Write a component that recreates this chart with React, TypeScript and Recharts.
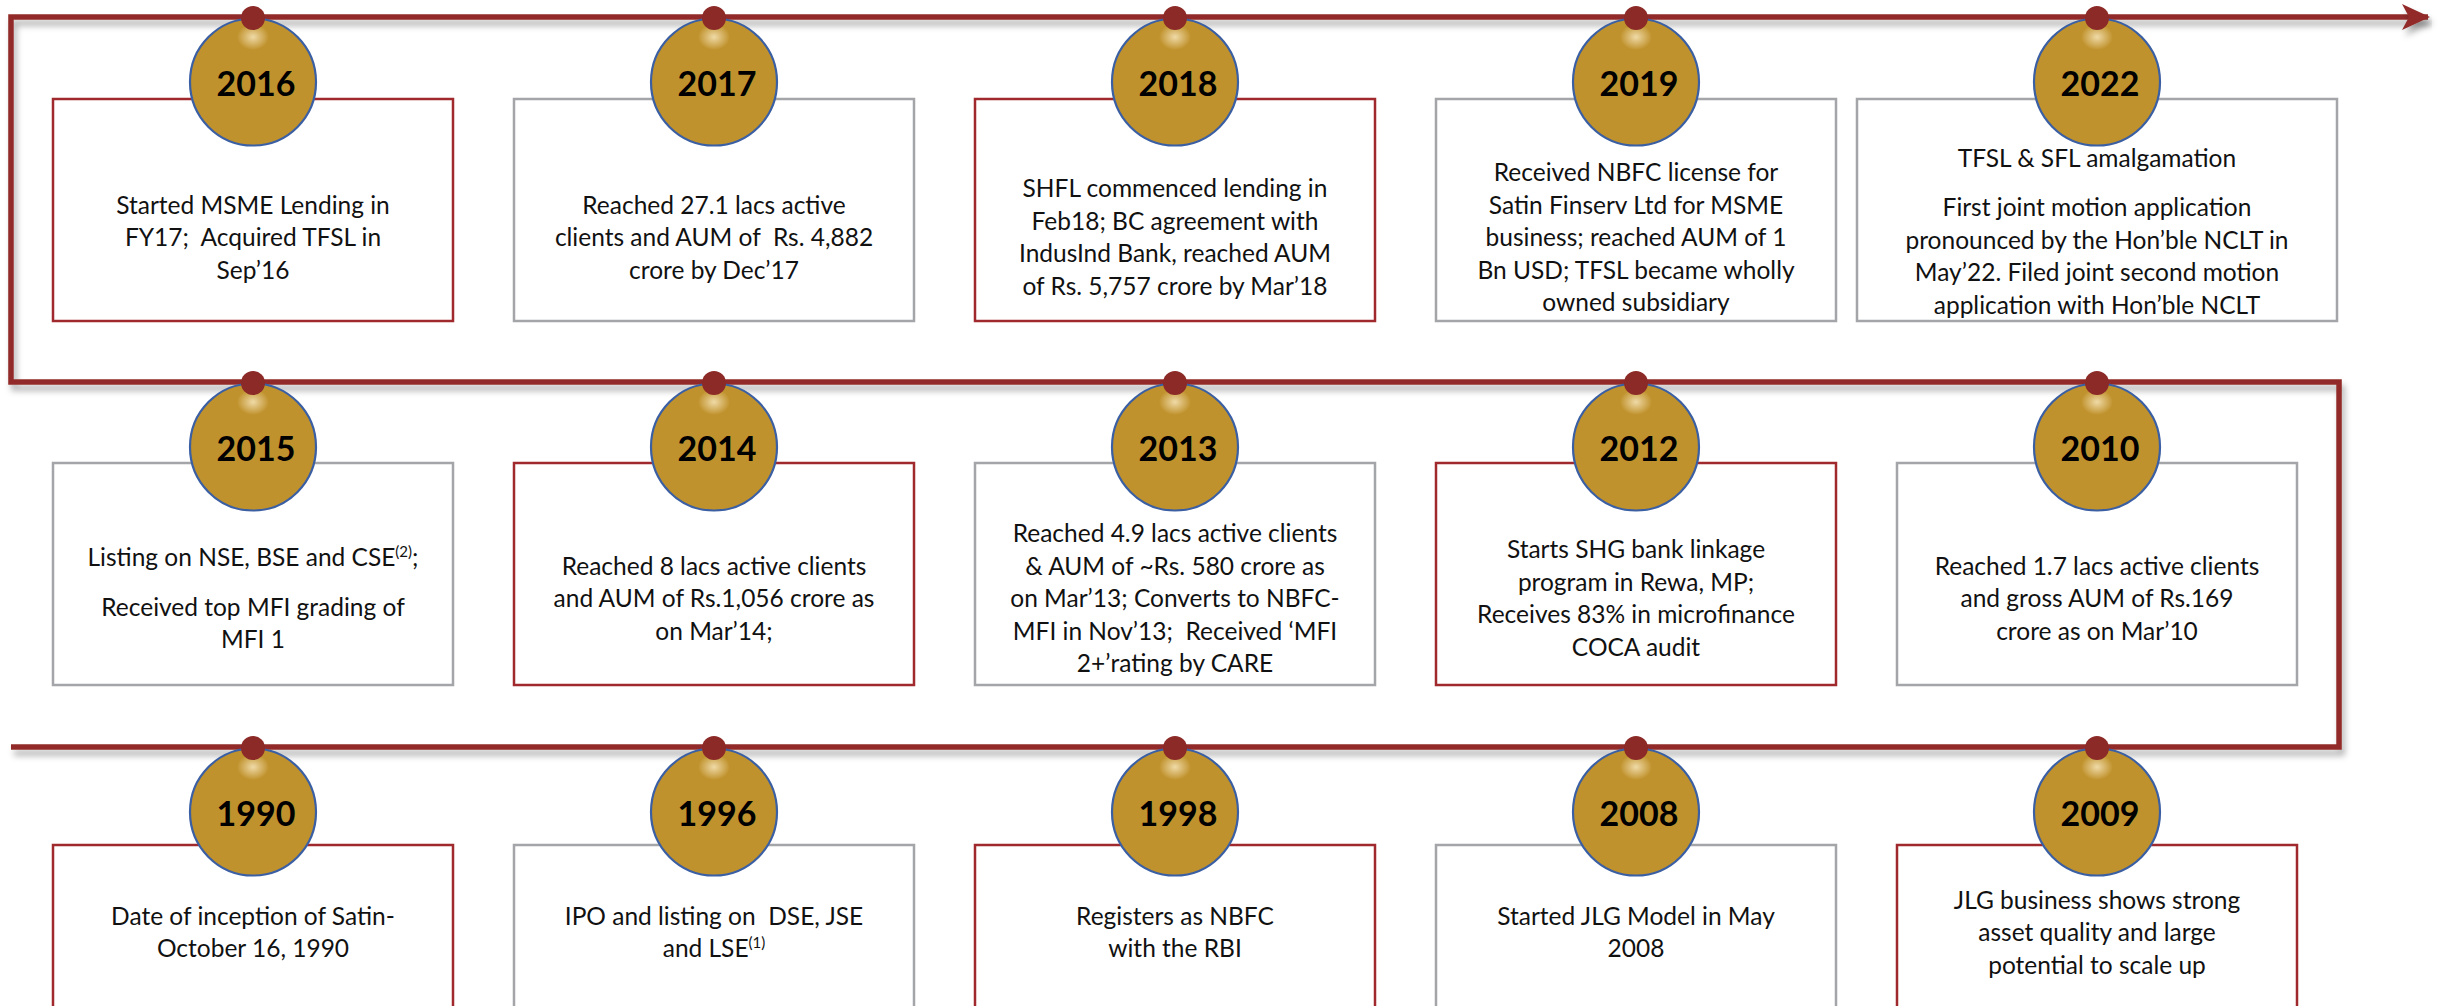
import React from 'react';
import { ComposedChart, Line, Scatter, XAxis, YAxis, Customized } from 'recharts';

// ---------- data ----------
const topRowYears = ['2016', '2017', '2018', '2019', '2022'];
const topRowTexts: string[][] = [
  ['Started MSME Lending in', 'FY17;  Acquired TFSL in', 'Sep’16'],
  ['Reached 27.1 lacs active', 'clients and AUM of  Rs. 4,882', 'crore by Dec’17'],
  ['SHFL commenced lending in', 'Feb18; BC agreement with', 'IndusInd Bank, reached AUM', 'of Rs. 5,757 crore by Mar’18'],
  ['Received NBFC license for', 'Satin Finserv Ltd for MSME', 'business; reached AUM of 1', 'Bn USD; TFSL became wholly', 'owned subsidiary'],
  ['TFSL & SFL amalgamation', '', 'First joint motion application', 'pronounced by the Hon’ble NCLT in', 'May’22. Filed joint second motion', 'application with Hon’ble NCLT'],
];

const middleRowYears = ['2015', '2014', '2013', '2012', '2010'];
const middleRowTexts: string[][] = [
  ['Listing on NSE, BSE and CSE^{(2)};', '', 'Received top MFI grading of', 'MFI 1'],
  ['Reached 8 lacs active clients', 'and AUM of Rs.1,056 crore as', 'on Mar’14;'],
  ['Reached 4.9 lacs active clients', '& AUM of ~Rs. 580 crore as', 'on Mar’13; Converts to NBFC-', 'MFI in Nov’13;  Received ‘MFI', '2+’rating by CARE'],
  ['Starts SHG bank linkage', 'program in Rewa, MP;', 'Receives 83% in microfinance', 'COCA audit'],
  ['Reached 1.7 lacs active clients', 'and gross AUM of Rs.169', 'crore as on Mar’10'],
];

const bottomRowYears = ['1990', '1996', '1998', '2008', '2009'];
const bottomRowTexts: string[][] = [
  ['Date of inception of Satin-', 'October 16, 1990'],
  ['IPO and listing on  DSE, JSE', 'and LSE^{(1)}'],
  ['Registers as NBFC', 'with the RBI'],
  ['Started JLG Model in May', '2008'],
  ['JLG business shows strong', 'asset quality and large', 'potential to scale up'],
];

// ---------- layout / style config ----------
const W = 2438;
const H = 1006;
const COL0_PX = 253;
const COL_STEP = 461;
const ROW0_PX = 17;
const ROW_STEP = 365;
const X_DOMAIN = [-COL0_PX / COL_STEP, (W - COL0_PX) / COL_STEP];
const Y_DOMAIN = [-ROW0_PX / ROW_STEP, (H - ROW0_PX) / ROW_STEP];
const EDGE = 0.525;
const ARROW_EXT = 0.718;

const RED = '#922C29';
const GRAY_BORDER = '#A3A5A8';
const RED_BORDER = '#A0292E';
const GOLD = '#C0922D';
const BLUE = '#3B5FA3';

const BORDER_PATTERN = [
  ['red', 'gray', 'red', 'gray', 'gray'],
  ['gray', 'red', 'gray', 'red', 'gray'],
  ['red', 'gray', 'red', 'gray', 'red'],
];
const ROW_LAYOUT = [
  { boxTop: 82, textCenter: 221 },
  { boxTop: 81, textCenter: 217 },
  { boxTop: 98, textCenter: 186 },
];
const TEXT_CENTER_OVERRIDE: Record<string, number> = { '2022': 215 };
const BOX_W = 400;
const BOX_H = 222;
const BOX_W_OVERRIDE: Record<string, number> = { '2022': 480 };
const ELL_OFFSET = 65;
const LINE_H = 32.5;
const PARA_GAP = 17;
const FONT = 'Lato, "Open Sans", sans-serif';
const TEXT_SIZE = 24.5;

const rows = [
  { years: topRowYears, texts: topRowTexts },
  { years: middleRowYears, texts: middleRowTexts },
  { years: bottomRowYears, texts: bottomRowTexts },
];

const events = rows.flatMap((r, ri) =>
  r.years.map((year, ci) => ({ col: ci, row: ri, year, lines: r.texts[ci] }))
);

const lastCol = topRowYears.length - 1;
// timeline path runs chronologically: bottom row left→right, up, middle row right→left, up, top row left→right
const timeline = [
  { col: -EDGE, row: 2 },
  { col: lastCol + EDGE, row: 2 },
  { col: lastCol + EDGE, row: 1 },
  { col: -EDGE, row: 1 },
  { col: -EDGE, row: 0 },
  { col: lastCol + ARROW_EXT, row: 0 },
];

function renderLine(line: string, x: number, y: number, key: number) {
  const parts = line.split(/\^\{(.*?)\}/);
  return (
    <text
      key={key}
      x={x}
      y={y}
      textAnchor="middle"
      fontFamily={FONT}
      fontSize={TEXT_SIZE}
      fill="#111"
      style={{ whiteSpace: 'pre' }}
    >
      {parts.map((p, i) =>
        i % 2 === 1 ? (
          <tspan key={i} dy={-9} fontSize={15}>{p}</tspan>
        ) : i > 0 ? (
          <tspan key={i} dy={9}>{p}</tspan>
        ) : (
          <tspan key={i}>{p}</tspan>
        )
      )}
    </text>
  );
}

function EventMark(props: any) {
  const { cx, cy, payload } = props;
  if (cx == null || cy == null) return <g />;
  const lay = ROW_LAYOUT[payload.row];
  const w = BOX_W_OVERRIDE[payload.year] ?? BOX_W;
  const stroke = BORDER_PATTERN[payload.row][payload.col] === 'red' ? RED_BORDER : GRAY_BORDER;
  const ey = cy + ELL_OFFSET;
  const lines: string[] = payload.lines;
  const nGaps = lines.filter((l) => l === '').length;
  const nText = lines.length - nGaps;
  const total = (nText - 1) * LINE_H + nGaps * PARA_GAP;
  const center = TEXT_CENTER_OVERRIDE[payload.year] ?? lay.textCenter;
  let y = cy + center - total / 2 + TEXT_SIZE * 0.33;
  const textEls: React.ReactNode[] = [];
  lines.forEach((l, i) => {
    if (l === '') {
      y += PARA_GAP;
      return;
    }
    textEls.push(renderLine(l, cx, y, i));
    y += LINE_H;
  });
  return (
    <g>
      <rect x={cx - w / 2} y={cy + lay.boxTop} width={w} height={BOX_H} fill="#fff" stroke={stroke} strokeWidth={2.5} />
      {textEls}
      <ellipse cx={cx} cy={ey} rx={63} ry={63.5} fill={GOLD} stroke={BLUE} strokeWidth={2.2} />
      <ellipse cx={cx} cy={cy + 20} rx={16} ry={13} fill="url(#pinGlow)" />
      <text x={cx + 3} y={ey} textAnchor="middle" dominantBaseline="central" fontFamily={FONT} fontWeight={700} fontSize={34} fill="#000">
        {payload.year}
      </text>
      <circle cx={cx} cy={cy + 1} r={12} fill="#8C2A27" />
    </g>
  );
}

function ArrowDot(props: any) {
  const { cx, cy, index } = props;
  if (index !== timeline.length - 1) return <g key={`d${index}`} />;
  return (
    <polygon
      key={`d${index}`}
      points={`${cx + 2},${cy} ${cx - 26},${cy - 13} ${cx - 19},${cy} ${cx - 26},${cy + 13}`}
      fill={RED}
      filter="url(#lineShadow)"
    />
  );
}

function Defs() {
  return (
    <defs>
      <filter id="lineShadow" x="-5%" y="-50%" width="110%" height="200%">
        <feDropShadow dx={3} dy={6} stdDeviation={3} floodColor="#000" floodOpacity={0.3} />
      </filter>
      <radialGradient id="pinGlow">
        <stop offset="0%" stopColor="#FFF2D0" stopOpacity={0.75} />
        <stop offset="100%" stopColor="#FFF2D0" stopOpacity={0} />
      </radialGradient>
    </defs>
  );
}

export default function App() {
  return (
    <div style={{ position: 'absolute', left: 0, top: 0, width: W, height: H, background: '#fff' }}>
      <ComposedChart width={W} height={H} margin={{ top: 0, right: 0, bottom: 0, left: 0 }}>
        <Customized component={Defs} />
        <XAxis type="number" dataKey="col" domain={X_DOMAIN} allowDataOverflow hide />
        <YAxis type="number" dataKey="row" domain={Y_DOMAIN} allowDataOverflow reversed hide />
        <Line
          data={timeline}
          dataKey="row"
          type="linear"
          stroke={RED}
          strokeWidth={5.5}
          strokeLinejoin="miter"
          strokeLinecap="butt"
          filter="url(#lineShadow)"
          dot={ArrowDot}
          activeDot={false}
          isAnimationActive={false}
        />
        <Scatter data={events} dataKey="row" shape={EventMark} isAnimationActive={false} />
      </ComposedChart>
    </div>
  );
}
